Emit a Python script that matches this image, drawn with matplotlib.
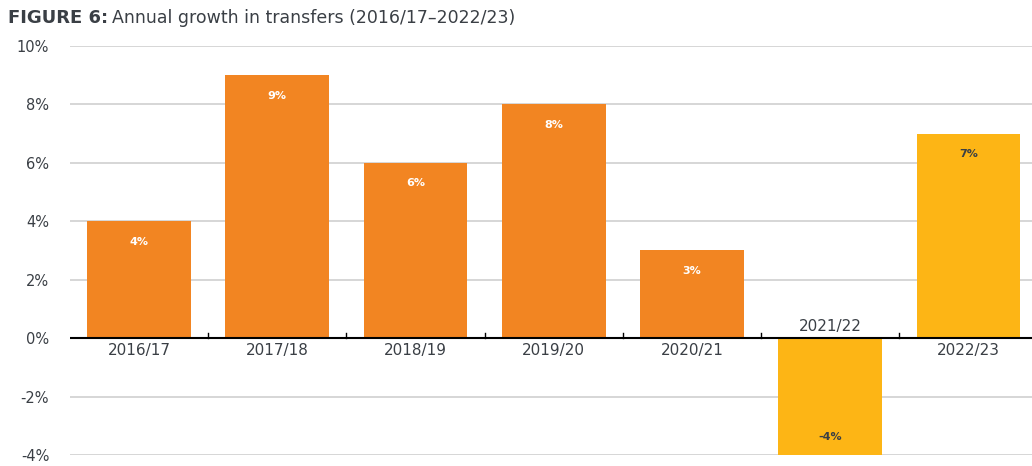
import matplotlib.pyplot as plt
import numpy as np

plt.rcParams['font.family'] = ['DejaVu Sans']

years = ["2016/17", "2017/18", "2018/19", "2019/20", "2020/21", "2021/22", "2022/23"]
growth = [4, 9, 6, 8, 3, -4, 7]
labels = ["4%", "9%", "6%", "8%", "3%", "-4%", "7%"]
colors = ["#F28522"] * 5 + ["#FDB515"] * 2
label_colors = ["white"] * 5 + ["#3a3f45"] * 2
yticks = [-4, -2, 0, 2, 4, 6, 8, 10]

fig = plt.figure(figsize=(10.32, 4.66), dpi=100)
ax = fig.add_axes([70 / 1032, 1 - 455 / 466, 1 - 70 / 1032, (455 - 46) / 466])

x = np.arange(len(years))
ax.bar(x, growth, width=0.75, color=colors, zorder=3)

for xi, v, lab, c in zip(x, growth, labels, label_colors):
    ypos = v - 0.7 if v > 0 else v + 0.6
    ax.text(xi, ypos, lab, ha="center", va="center", color=c,
            fontsize=8, fontweight="bold", zorder=4)

# category labels: below zero line, above it for the negative bar
for xi, v, yr in zip(x, growth, years):
    if v >= 0:
        ax.text(xi, -0.15, yr, ha="center", va="top", fontsize=11, color="#3a3f45")
    else:
        ax.text(xi, 0.15, yr, ha="center", va="bottom", fontsize=11, color="#3a3f45")

ax.set_ylim(-4, 10)
ax.set_xlim(-0.5, 6.46)
ax.set_yticks(yticks)
ax.set_yticklabels([f"{t}%" for t in yticks], fontsize=10.5, color="#3a3f45")
ax.tick_params(axis="y", length=0, pad=15)
ax.set_xticks([])
ax.grid(axis="y", color="#d0d0d0", linewidth=1.2, zorder=0)
ax.axhline(0, color="black", linewidth=1.5, zorder=5)
for b in np.arange(0.5, 6, 1):
    ax.plot([b, b], [0, 0.18], color="black", linewidth=1, zorder=5)
for s in ax.spines.values():
    s.set_visible(False)

t1 = fig.text(8 / 1032, 1 - 18 / 466, "FIGURE 6:", fontsize=13, fontweight="bold",
              color="#3a3f45", va="center", ha="left")
fig.canvas.draw()
bb = t1.get_window_extent()
fig.text((bb.x1 + 4) / 1032, 1 - 18 / 466, "Annual growth in transfers (2016/17\u20132022/23)",
         fontsize=12.5, color="#3a3f45", va="center", ha="left")

fig.savefig("out.png", dpi=100)
